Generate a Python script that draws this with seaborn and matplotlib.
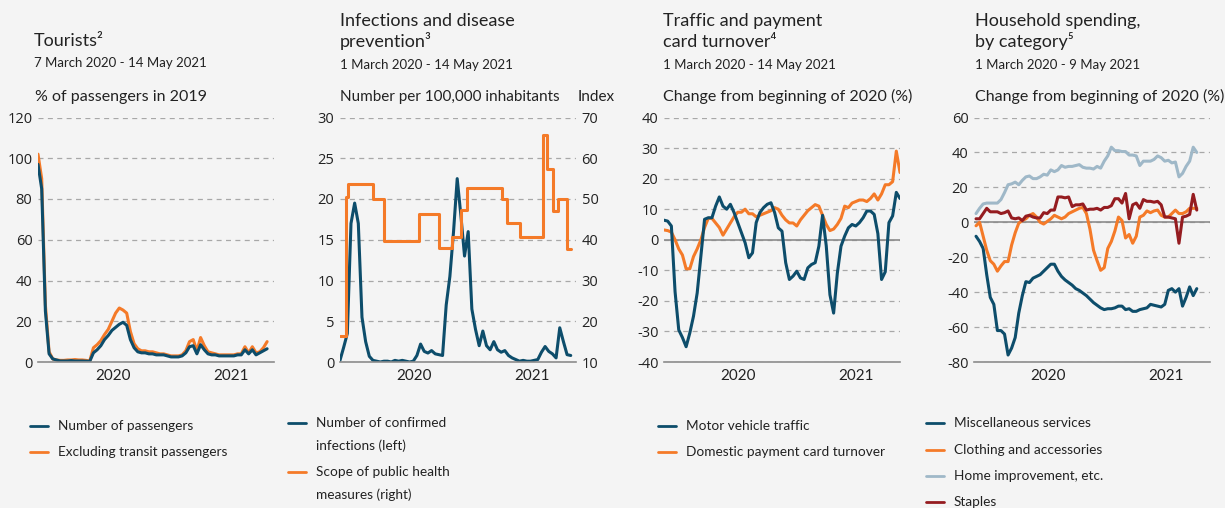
import numpy as np
import pandas as pd
import matplotlib
matplotlib.use('Agg')
import matplotlib.pyplot as plt
from matplotlib.lines import Line2D
import seaborn as sns

W, H = 1225, 508

BLUE = '#0d4d6b'
ORANGE = '#f47a28'
LIGHTBLUE = '#9fb8c8'
RED = '#951c20'
GRID = '#a8a8a8'
AXIS = '#8c8c8c'
BG = '#f4f4f4'
TXT = '#222222'

# --- tourists (weekly), % of passengers in 2019
tourists_start, tourists_end = '2020-03-07', '2021-05-14'
passengers = [97, 85, 25, 4, 1.5, 1, 0.5, 0.5, 0.5, 0.7, 0.5, 0.5, 0.5, 0.4, 0.3, 4.5, 6, 8, 11, 13,
              15.5, 17, 18.5, 19.5, 18, 11, 7, 5, 4.5, 4.5, 4, 4, 3.5, 3.5, 3.5, 3, 2.5, 2.5, 2.5, 3,
              4.5, 7.5, 8, 4, 8.5, 6, 4, 3.5, 3.5, 3, 3, 3, 3, 3, 3.5, 3.5, 6, 4, 6, 3.5,
              4.5, 5.5, 6.5]
excl_transit = [102, 90, 28, 5, 1.5, 1, 0.8, 0.8, 1, 1, 1.2, 1, 1, 0.8, 0.5, 7, 8.5, 10.5, 13.5, 16,
                20, 24, 26.5, 25.5, 24, 15, 9, 6.5, 5.5, 5.5, 5, 5, 4.5, 4, 4, 3.5, 3, 3, 3, 3.5,
                5.5, 10, 11, 5.5, 12, 8, 5, 4.5, 4, 3.5, 3.5, 3.5, 3.5, 3.5, 4, 4, 7.5, 4.5, 7.5, 4.5,
                5, 7, 10]

# --- infections per 100,000 (left) and public health measures index (right)
infections_start, infections_end = '2020-03-01', '2021-05-14'
infections = [0.2, 1.8, 3.5, 17, 19.5, 17, 5.5, 2.5, 0.7, 0.2, 0.1, 0, 0.1, 0.1, 0, 0.2, 0.1, 0.2, 0.1, 0,
              0.1, 0.8, 2.2, 1.3, 1.1, 1.4, 1.0, 0.9, 0.8, 7, 10.5, 16, 22.5, 18, 13, 16, 6.5, 4, 2, 3.8,
              2, 1.5, 2.5, 1.5, 1.2, 1.4, 0.8, 0.5, 0.3, 0.1, 0.2, 0.1, 0.1, 0.2, 0.3, 1.2, 1.9, 1.3, 1.0, 0.5,
              4.2, 2.5, 0.9, 0.8]
measures_dates = ['2020-03-01', '2020-03-13', '2020-03-16', '2020-05-03', '2020-05-24', '2020-07-29',
                  '2020-09-06', '2020-10-01', '2020-10-18', '2020-10-28', '2021-01-03', '2021-01-13',
                  '2021-02-06', '2021-03-22', '2021-03-29', '2021-04-11', '2021-04-19', '2021-05-06',
                  '2021-05-14']
measures_index = [16.5, 50.5, 53.6, 50.0, 39.7, 46.2, 38.0, 40.7, 47.2, 52.7, 50.0, 44.2,
                  40.7, 65.8, 57.3, 47.1, 50.0, 37.8, 37.8]

# --- traffic and card turnover, change from beginning of 2020 (%)
traffic_start, traffic_end = '2020-03-01', '2021-05-14'
motor_traffic = [6.4, 6.1, 4.5, -17, -29.5, -32, -35, -30.5, -25, -17.4, -5.4, 6.7, 7.2, 7.2, 11, 14,
                 11, 10, 11.6, 8.9, 5.6, 2.3, -1, -5.9, -4.3, 5.6, 8.9, 10.5, 11.6, 12.1, 8.9, 3.9,
                 2.8, -7.5, -13, -11.9, -10.3, -12.5, -13, -9.2, -8.1, -7.5, -2.1, 8, -2, -18, -24, -11,
                 -2.1, 1.2, 3.9, 5, 4.5, 5.6, 7.2, 9.4, 9.4, 8.3, 2, -13, -10.5, 5.6, 7.8, 15.5, 13.5]
card_turnover = [3.2, 3, 2.5, 0, -3, -5, -9.5, -9.5, -5.5, -3, 0, 4, 7, 7, 5.5, 4, 1.5, 3.5, 5.5, 7.5,
                 9, 9, 10, 8.5, 8.5, 7.5, 8, 8.5, 9, 9.5, 10.5, 10, 8, 6.5, 5.5, 5.5, 4.5, 6.5, 8, 9.5,
                 10.5, 11.5, 11, 8, 5, 3, 3.5, 5, 7, 11, 10.5, 12, 12.5, 13, 13, 12.5, 13.5, 15, 13, 15,
                 18, 18, 19, 29, 22]

# --- household spending by category (weekly), change from beginning of 2020 (%)
spending_start, spending_end = '2020-03-01', '2021-05-09'
misc_services = [-8, -11, -15, -30, -43, -47, -62, -62, -64, -76, -72, -66, -52, -42, -34, -34.5, -32, -31,
                 -30, -28, -26, -24, -24, -28, -31, -33, -34.5, -36, -38, -39, -40.5, -42, -44, -46,
                 -47.5, -49, -50, -49.5, -49.5, -49, -48, -48, -50, -49.5, -51, -51, -50, -49.5, -49,
                 -47, -47.5, -48, -48.5, -47, -39, -38, -40, -38, -48, -43, -37, -42, -38]
clothing = [-2, 0, -8, -16, -22, -24, -28, -25, -22.5, -22.5, -13, -6, -0.5, 1, 2, 4, 5, 3, 0, -1,
            0.5, 2, 4, 3, 2, 3, 5, 6, 7, 8, 8.5, 5, -4, -16, -22, -27.5, -26, -15, -11, -5,
            3, 1, -9, -7, -12, -8, 3, 4, 6.5, 5.5, 6.5, 7, 4, 3, 3, 5, 7, 5, 5, 6, 8, 8, 8]
home_improvement = [5, 8, 10.5, 11, 11, 11, 11, 13, 17, 21.5, 22, 23, 21.5, 24, 26, 26.5, 25, 25, 26, 27.5,
                    27, 30, 29, 30, 32.5, 31.5, 32, 32, 32.5, 33, 31.5, 31, 31, 30.5, 32, 31, 35, 38, 43, 41,
                    41, 40.5, 40.5, 38.5, 38.5, 38, 32.5, 35, 35, 35, 36, 38, 37, 35, 35.5, 34, 34.5, 26, 28, 32,
                    35, 43, 40]
staples = [2, 2, 5, 8, 6, 6, 6, 5, 5.5, 6.5, 2.5, 2, 2.5, 1, 3.5, 4, 3, 2.5, 2.5, 5.5,
           5, 7, 7, 14.5, 14.5, 14, 14.5, 9, 10, 10, 10.5, 7, 7.5, 7.5, 8, 7, 8.5, 8.5, 9.5, 13.5,
           13.5, 11, 16.5, 2, 10, 11, 8, 13, 12, 12, 11.5, 12, 10, 3, 3, 2.5, 2, -12, 3, 3.5,
           4.5, 16, 7]


def series(start, end, values):
    return pd.DataFrame({'date': pd.date_range(start, end, periods=len(values)), 'value': values})


sns.set_theme(style='white', rc={'figure.facecolor': BG, 'axes.facecolor': BG,
                                 'savefig.facecolor': BG})
plt.rcParams['font.family'] = ['Lato', 'DejaVu Sans']
plt.rcParams['text.color'] = TXT

fig = plt.figure(figsize=(W / 100, H / 100), dpi=100)


def px_axes(x0, x1, y0=117.5, y1=362):
    return fig.add_axes([x0 / W, 1 - y1 / H, (x1 - x0) / W, (y1 - y0) / H])


def ftext(x, y, s, **kw):
    fig.text(x / W, 1 - y / H, s, **kw)


def style_axes(ax, ylim, yticks, xlim, split, zero=False):
    ax.set_xlabel('')
    ax.set_ylabel('')
    ax.set_ylim(ylim)
    ax.set_yticks(yticks)
    ax.set_yticklabels([f'{t:g}' for t in yticks], fontfamily='Open Sans', fontsize=10.5, color=TXT)
    ax.tick_params(axis='y', length=0, pad=4)
    ax.yaxis.grid(True, color=GRID, linestyle=(0, (4, 3.5)), linewidth=0.9)
    ax.xaxis.grid(False)
    if zero:
        ax.axhline(0, color=AXIS, lw=1.2, zorder=1.5)
    left, right, mid = pd.Timestamp(xlim[0]), pd.Timestamp(xlim[1]), pd.Timestamp(split)
    ax.set_xlim(left, right)
    ax.set_xticks([left, mid, right])
    ax.set_xticklabels(['', '', ''])
    ax.set_xticks([left + (mid - left) / 2, mid + (right - mid) / 2], labels=['2020', '2021'], minor=True)
    ax.tick_params(axis='x', which='major', length=6, width=1.2, color=AXIS)
    ax.tick_params(axis='x', which='minor', length=0, pad=5, labelsize=11, labelcolor=TXT)
    for s in ['top', 'left', 'right']:
        ax.spines[s].set_visible(False)
    ax.spines['bottom'].set_color(AXIS)
    ax.spines['bottom'].set_linewidth(1.2)


def legend_entry(x, y, color, lines, gap=23):
    fig.add_artist(Line2D([x / W, (x + 18) / W], [1 - y / H] * 2, color=color, lw=2))
    for k, line in enumerate(lines):
        ftext(x + 28, y + k * gap, line, va='center', fontsize=9.8)


LW = 2.2

# Panel 1: tourists
ax1 = px_axes(38, 274)
sns.lineplot(data=series(tourists_start, tourists_end, excl_transit), x='date', y='value',
             color=ORANGE, lw=LW, ax=ax1)
sns.lineplot(data=series(tourists_start, tourists_end, passengers), x='date', y='value',
             color=BLUE, lw=LW, ax=ax1)
style_axes(ax1, (0, 120), range(0, 121, 20), ('2020-03-07', '2021-05-27'), '2020-12-14')

# Panel 2: infections
ax2 = px_axes(340, 576)
sns.lineplot(data=series(infections_start, infections_end, infections), x='date', y='value',
             color=BLUE, lw=LW, ax=ax2)
style_axes(ax2, (0, 30), range(0, 31, 5), ('2020-03-01', '2021-05-24'), '2020-12-09')
ax2r = ax2.twinx()
measures = pd.DataFrame({'date': pd.to_datetime(measures_dates), 'value': measures_index})
sns.lineplot(data=measures, x='date', y='value', color=ORANGE, lw=LW, drawstyle='steps-post', ax=ax2r)
ax2r.set_ylabel('')
ax2r.set_ylim(10, 70)
ax2r.set_yticks(range(10, 71, 10))
ax2r.set_yticklabels([str(t) for t in range(10, 71, 10)], fontfamily='Open Sans', fontsize=10.5, color=TXT)
ax2r.tick_params(axis='y', length=0, pad=4)
for s in ['top', 'left', 'right', 'bottom']:
    ax2r.spines[s].set_visible(False)

# Panel 3: traffic and card turnover
ax3 = px_axes(664, 900)
sns.lineplot(data=series(traffic_start, traffic_end, card_turnover), x='date', y='value',
             color=ORANGE, lw=LW, ax=ax3)
sns.lineplot(data=series(traffic_start, traffic_end, motor_traffic), x='date', y='value',
             color=BLUE, lw=LW, ax=ax3)
style_axes(ax3, (-40, 40), range(-40, 41, 10), ('2020-03-01', '2021-05-14'), '2020-12-03', zero=True)

# Panel 4: household spending
ax4 = px_axes(974, 1210)
for vals, col in [(misc_services, BLUE), (clothing, ORANGE), (home_improvement, LIGHTBLUE), (staples, RED)]:
    sns.lineplot(data=series(spending_start, spending_end, vals), x='date', y='value',
                 color=col, lw=LW, ax=ax4)
style_axes(ax4, (-80, 60), range(-80, 61, 20), ('2020-02-26', '2021-06-04'), '2020-12-14', zero=True)

# titles
TS, SS, LS = 13, 9.5, 11.5
ftext(34, 46, 'Tourists²', fontsize=TS, va='baseline')
ftext(34, 67, '7 March 2020 - 14 May 2021', fontsize=SS, va='baseline')
ftext(35, 101, '% of passengers in 2019', fontsize=LS, va='baseline')

ftext(340, 26, 'Infections and disease', fontsize=TS, va='baseline')
ftext(340, 47, 'prevention³', fontsize=TS, va='baseline')
ftext(340, 69, '1 March 2020 - 14 May 2021', fontsize=SS, va='baseline')
ftext(340, 101, 'Number per 100,000 inhabitants', fontsize=11, va='baseline')
ftext(578, 101, 'Index', fontsize=11, va='baseline')

ftext(663, 26, 'Traffic and payment', fontsize=TS, va='baseline')
ftext(663, 47, 'card turnover⁴', fontsize=TS, va='baseline')
ftext(663, 69, '1 March 2020 - 14 May 2021', fontsize=SS, va='baseline')
ftext(663, 101, 'Change from beginning of 2020 (%)', fontsize=LS, va='baseline')

ftext(975, 26, 'Household spending,', fontsize=TS, va='baseline')
ftext(975, 47, 'by category⁵', fontsize=TS, va='baseline')
ftext(975, 69, '1 March 2020 - 9 May 2021', fontsize=SS, va='baseline')
ftext(975, 101, 'Change from beginning of 2020 (%)', fontsize=LS, va='baseline')

# legends
legend_entry(30, 426, BLUE, ['Number of passengers'])
legend_entry(30, 452, ORANGE, ['Excluding transit passengers'])
legend_entry(288, 423, BLUE, ['Number of confirmed', 'infections (left)'])
legend_entry(288, 472, ORANGE, ['Scope of public health', 'measures (right)'])
legend_entry(658, 426, BLUE, ['Motor vehicle traffic'])
legend_entry(658, 452, ORANGE, ['Domestic payment card turnover'])
legend_entry(926, 423, BLUE, ['Miscellaneous services'])
legend_entry(926, 450, ORANGE, ['Clothing and accessories'])
legend_entry(926, 476, LIGHTBLUE, ['Home improvement, etc.'])
legend_entry(926, 502, RED, ['Staples'])

fig.savefig('out.png', dpi=100)
